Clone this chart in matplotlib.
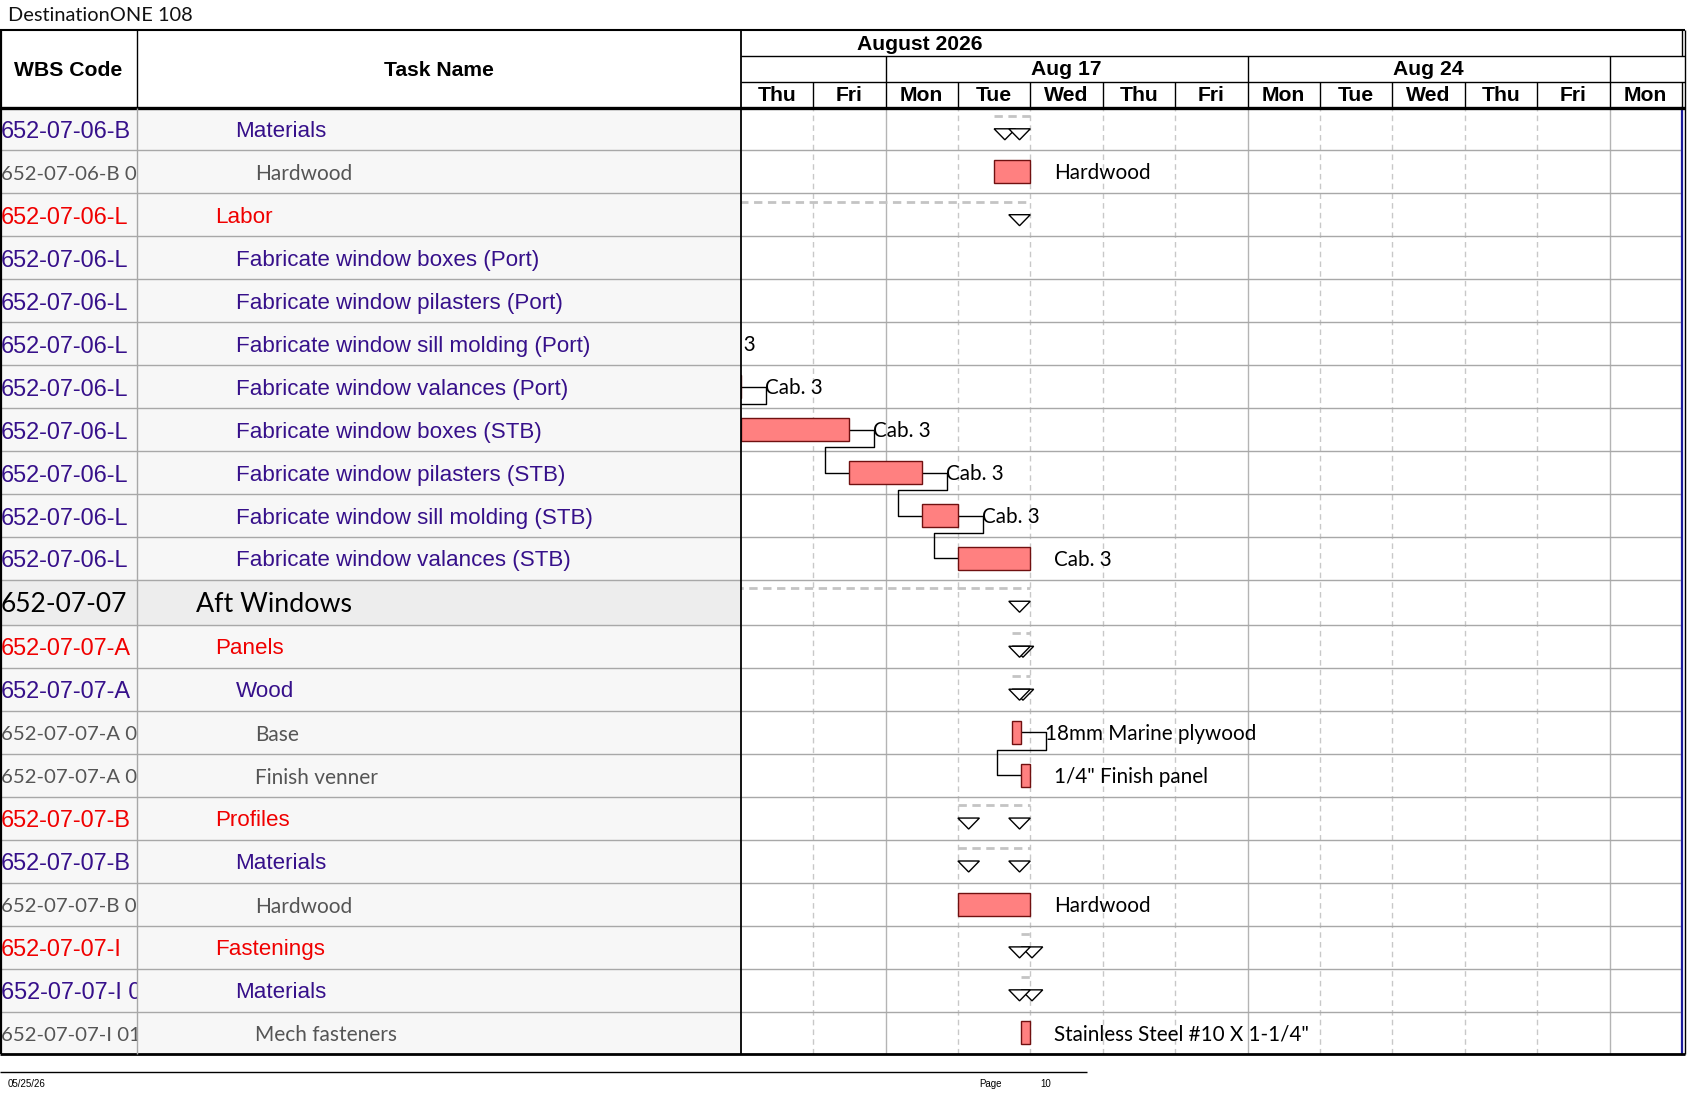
import matplotlib
matplotlib.use("Agg")
import matplotlib.pyplot as plt
from matplotlib.patches import Polygon
from matplotlib.transforms import blended_transform_factory
import numpy as np

# ---------------- data ----------------
wbs_codes = [
    "652-07-06-B", "652-07-06-B 01", "652-07-06-L",
    "652-07-06-L", "652-07-06-L", "652-07-06-L", "652-07-06-L",
    "652-07-06-L", "652-07-06-L", "652-07-06-L", "652-07-06-L",
    "652-07-07", "652-07-07-A", "652-07-07-A", "652-07-07-A 01", "652-07-07-A 02",
    "652-07-07-B", "652-07-07-B", "652-07-07-B 01",
    "652-07-07-I", "652-07-07-I 01", "652-07-07-I 01 01",
]
task_names = [
    "Materials", "Hardwood", "Labor",
    "Fabricate window boxes (Port)", "Fabricate window pilasters (Port)",
    "Fabricate window sill molding (Port)", "Fabricate window valances (Port)",
    "Fabricate window boxes (STB)", "Fabricate window pilasters (STB)",
    "Fabricate window sill molding (STB)", "Fabricate window valances (STB)",
    "Aft Windows", "Panels", "Wood", "Base", "Finish venner",
    "Profiles", "Materials", "Hardwood", "Fastenings", "Materials", "Mech fasteners",
]
levels = [3, 4, 2, 3, 3, 3, 3, 3, 3, 3, 3, 1, 2, 3, 4, 4, 2, 3, 4, 2, 3, 4]
is_summary = [1, 0, 1, 0, 0, 0, 0, 0, 0, 0, 0, 1, 1, 1, 0, 0, 1, 1, 0, 1, 1, 0]
# working-day index, 0 = start of Thu Aug 13 2026
starts = [3.5, 3.5, -7.5, -4.0, -2.5, -1.5, -0.92, 0.0, 1.5, 2.5, 3.0,
          -2.0, 3.75, 3.75, 3.75, 3.875, 3.0, 3.0, 3.0, 3.875, 3.875, 3.875]
ends = [4.0, 4.0, 4.0, -2.5, -1.5, -0.92, 0.0, 1.5, 2.5, 3.0, 4.0,
        4.0, 4.0, 4.0, 3.875, 4.0, 4.0, 4.0, 4.0, 4.0, 4.0, 4.0]
bar_labels = ["", "Hardwood", "", "Cab. 3", "Cab. 3", "Cab. 3", "Cab. 3",
              "Cab. 3", "Cab. 3", "Cab. 3", "Cab. 3", "", "", "",
              "18mm Marine plywood", "1/4\" Finish panel", "", "", "Hardwood",
              "", "", "Stainless Steel #10 X 1-1/4\""]
links = [(3, 4), (4, 5), (5, 6), (6, 7), (7, 8), (8, 9), (9, 10), (14, 15)]

day_labels = ["Thu", "Fri", "Mon", "Tue", "Wed", "Thu", "Fri",
              "Mon", "Tue", "Wed", "Thu", "Fri", "Mon"]
week_bounds = [0, 2, 7, 12, 13]
week_labels = ["", "Aug 17", "Aug 24", ""]
month_label = "August 2026"
month_label_pos = 2.47
title = "DestinationONE 108"
footer_date = "05/25/26"
footer_page = "10"

# ---------------- layout ----------------
W, H = 1687, 1097
fig = plt.figure(figsize=(W / 100, H / 100), dpi=100)
fig.patch.set_facecolor("white")

X_TASK, X_G0, X_G1, X_R = 137.0, 740.7, 1681.9, 1685.5
Y_TOP, Y_MONTH, Y_WEEK, Y_HDR = 30.0, 56.0, 82.0, 107.5
row_heights = [42.95] * 11 + [45.0] + [42.95] * 10
body_h = float(sum(row_heights))
Y_BOT = Y_HDR + body_h
tops = np.concatenate([[0.0], np.cumsum(row_heights)])
centers = tops[:-1] + np.array(row_heights) / 2
n_days = len(day_labels)
D = (X_G1 - X_G0) / n_days
TDY = 2.5  # text vertical nudge (px)

ARIAL = ["Liberation Sans", "DejaVu Sans"]
CAL = ["Lato", "DejaVu Sans"]
PURPLE, RED, GRAY = "#36108a", "#f00000", "#555555"
LINE = "#a8a8a8"


def body_axes(x0, x1, fc):
    a = fig.add_axes([x0 / W, 1 - Y_BOT / H, (x1 - x0) / W, body_h / H])
    a.set_xticks([]); a.set_yticks([])
    for s in a.spines.values():
        s.set_visible(False)
    a.set_facecolor(fc)
    a.set_ylim(body_h, 0)
    return a


axw = body_axes(0, X_TASK, "#f7f7f7")
axt = body_axes(X_TASK, X_G0, "#f7f7f7")
axg = body_axes(X_G0, X_G1, "white")
axw.set_xlim(0, X_TASK)
axt.set_xlim(X_TASK, X_G0)
axg.set_xlim(0, n_days)

for a in (axw, axt):
    a.axhspan(tops[11], tops[12], color="#ededed", zorder=0)
for a in (axw, axt, axg):
    x0, x1 = a.get_xlim()
    a.hlines(tops[1:-1], x0, x1, color=LINE, lw=1, zorder=1)

# text styles by level
style = {
    1: dict(family=CAL, ws=19.0, ns=19.3, color="black", x=196),
    2: dict(family=ARIAL, ws=16.9, ns=16.1, color=RED, x=215),
    3: dict(family=ARIAL, ws=16.9, ns=16.1, color=PURPLE, x=235.5),
    4: dict(family=CAL, ws=14.7, ns=15.0, color=GRAY, x=255),
}
for i, (code, name, lv) in enumerate(zip(wbs_codes, task_names, levels)):
    st = style[lv]
    axw.text(1, centers[i] + TDY, code, va="center", ha="left", family=st["family"],
             fontsize=st["ws"], color=st["color"], clip_on=True)
    axt.text(st["x"], centers[i] + TDY, name, va="center", ha="left", family=st["family"],
             fontsize=st["ns"], color=st["color"], clip_on=True)

# gantt grid
for b in range(1, n_days):
    if b in week_bounds:
        axg.axvline(b, color="#b4b4b4", lw=1, zorder=0.5)
    else:
        axg.axvline(b, color="#c8c8c8", lw=1, ls=(0, (4, 3)), zorder=0.5)
axg.axvline(n_days, color="#1c1c9c", lw=1.6, zorder=5, clip_on=False)

tw = 21.5 / D
for i in range(len(task_names)):
    s, e, c = starts[i], ends[i], centers[i]
    if is_summary[i]:
        axg.hlines(tops[i] + 8.5, s, e, color="#c4c4c4", lw=2, linestyles=(0, (3, 2)), zorder=2)
        ty = tops[i] + 21.3
        for tri in ([(s, ty), (s + tw, ty), (s + tw / 2, ty + 11)],
                    [(e - tw, ty), (e, ty), (e - tw / 2, ty + 11)]):
            axg.add_patch(Polygon(tri, closed=True, facecolor="white",
                                  edgecolor="black", lw=1, zorder=4))
    else:
        axg.barh(c, e - s, left=s, height=23, color="#ff8080",
                 edgecolor="#701010", lw=1, zorder=3)
    if bar_labels[i]:
        axg.text(e + 24 / D, c + 1.5, bar_labels[i], va="center", ha="left",
                 family=CAL, fontsize=14.85, color="black", clip_on=True, zorder=5)

for p, q in links:
    x1 = ends[p] + 25 / D
    yb = centers[p] + 11.5 + 6
    xs = starts[q] - 24 / D
    axg.plot([ends[p], x1, x1, xs, xs, starts[q]],
             [centers[p], centers[p], yb, yb, centers[q], centers[q]],
             color="black", lw=1, zorder=2.5)

# ---------------- header / frame overlay ----------------
axc = fig.add_axes([0, 0, 1, 1])
axc.set_xlim(0, W); axc.set_ylim(H, 0)
axc.axis("off")
axc.set_zorder(10)
bt = blended_transform_factory(axg.transData, axc.transData)

axc.hlines(Y_TOP, 0, X_R, color="black", lw=1.5)
axc.hlines([Y_MONTH, Y_WEEK], X_G0, X_R, color="black", lw=1)
axc.hlines(Y_HDR, 0, X_R, color="black", lw=2.4)
axc.hlines(Y_BOT, 0, X_R, color="black", lw=2)
axc.vlines(0.8, Y_TOP, Y_BOT, color="black", lw=1.6)
axc.vlines(X_TASK, Y_TOP, Y_HDR, color="black", lw=1)
axc.vlines(X_TASK, Y_HDR, Y_BOT, color=LINE, lw=1)
axc.vlines(X_G0, Y_TOP, Y_BOT, color="black", lw=1.3)
axc.vlines(X_R, Y_TOP, Y_BOT, color="black", lw=1)
axc.vlines([n_days], Y_TOP, Y_MONTH, color="black", lw=1, transform=bt)
axc.vlines(week_bounds[1:-1], Y_MONTH, Y_WEEK, color="black", lw=1, transform=bt)
axc.vlines(list(range(1, n_days + 1)), Y_WEEK, Y_HDR, color="black", lw=1, transform=bt)

hdr = dict(family=ARIAL, fontweight="bold", fontsize=15.2, color="black",
           ha="center", va="center")
axc.text(68.5, 70.5, "WBS Code", **hdr)
axc.text((X_TASK + X_G0) / 2, 70.5, "Task Name", **hdr)
axc.text(month_label_pos, 44.5, month_label, transform=bt, **hdr)
for k, lab in enumerate(week_labels):
    if lab:
        axc.text((week_bounds[k] + week_bounds[k + 1]) / 2, 69.5, lab, transform=bt, **hdr)
for k, lab in enumerate(day_labels):
    axc.text(k + 0.5, 95.5, lab, transform=bt, **hdr)

axc.text(8, 15.5, title, family=["Lato", "DejaVu Sans"], fontweight="normal",
         fontsize=14.4, color="#111111", ha="left", va="center")

# footer
axc.hlines(1071.5, 0, 1087, color="black", lw=1)
foot = dict(family=["Liberation Sans Narrow", "Liberation Sans"], fontsize=7,
            color="black", va="center", ha="left")
axc.text(7.6, 1084, footer_date, **foot)
axc.text(979, 1084, "Page", **foot)
axc.text(1040, 1084, footer_page, **foot)

fig.savefig("out.png", dpi=100, facecolor="white")
